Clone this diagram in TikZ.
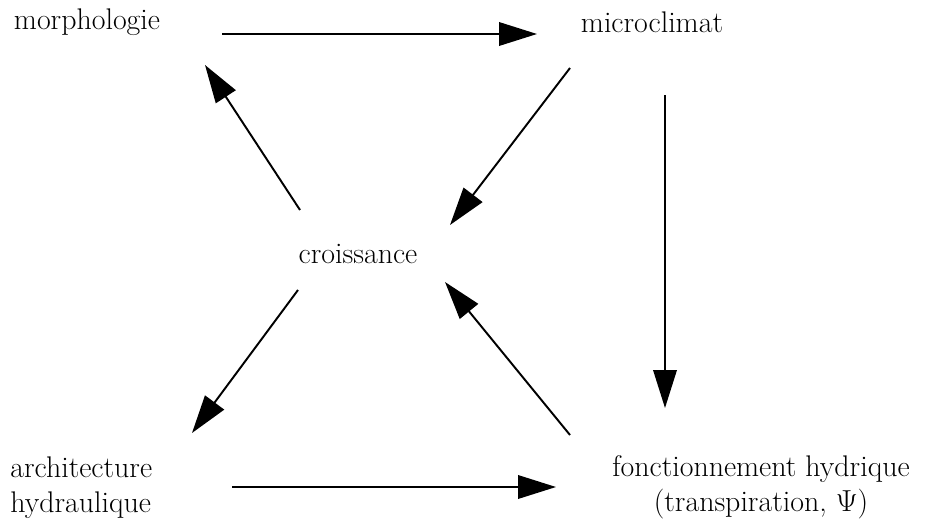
\documentclass[tikz,border=0pt]{standalone}
\usepackage{amsmath,amssymb}
\usetikzlibrary{arrows.meta,positioning,calc}
\tikzset{
  etat/.style={inner sep=0pt, font=\fontsize{17}{20}\selectfont},
  fleche/.style={-{Triangle[length=7.6mm, width=4.7mm]}, line width=1.1pt}
}
\begin{document}
\begin{tikzpicture}
\useasboundingbox (0,0) rectangle (18.54,-10.54);

\node[etat] (morph) at (1.74,-0.44) {morphologie};
\node[etat] (micro) at (13.04,-0.44) {microclimat};
\node[etat] (croiss) at (7.16,-5.08) {croissance};
\node[etat, anchor=west, align=left] (archi) at (0.2,-9.75) {architecture\\hydraulique};
\node[etat, align=center] (fonct) at (15.22,-9.75) {fonctionnement hydrique\\(transpiration, $\Psi$)};

\draw[fleche] ($(morph)+(2.70,-0.24)$) -- ($(micro)+(-2.30,-0.24)$);
\draw[fleche] ($(micro)+(-1.64,-0.92)$) -- ($(croiss)+(1.84,0.58)$);
\draw[fleche] ($(croiss)+(-1.16,0.88)$) -- ($(morph)+(2.36,-0.86)$);
\draw[fleche] ($(micro)+(0.26,-1.46)$) -- ($(fonct)+(-1.92,1.59)$);
\draw[fleche] ($(fonct)+(-3.82,1.05)$) -- ($(croiss)+(1.74,-0.56)$);
\draw[fleche] ($(croiss)+(-1.2,-0.72)$) -- ($(archi.west)+(3.64,1.09)$);
\draw[fleche] ($(archi.west)+(4.44,0.01)$) -- ($(fonct)+(-4.1,0.01)$);
\end{tikzpicture}
\end{document}
